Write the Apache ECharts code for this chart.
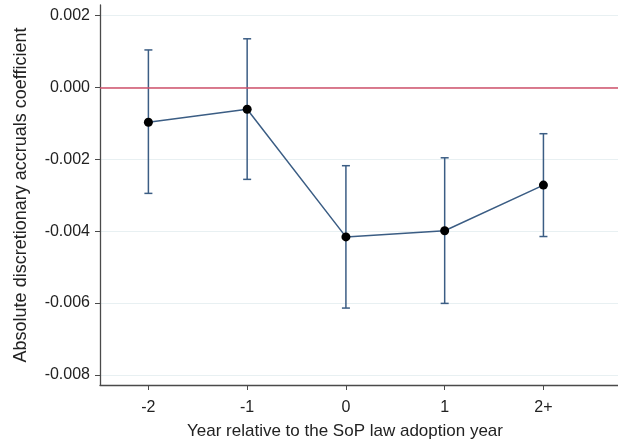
<!DOCTYPE html>
<html>
<head>
<meta charset="utf-8">
<script src="https://cdn.jsdelivr.net/npm/echarts@6/dist/echarts.min.js"></script>
<style>html,body{margin:0;padding:0;background:#fff}#c{width:618px;height:445px}</style>
</head>
<body>
<div id="c"></div>
<script>
// Data
const categories = ['-2', '-1', '0', '1', '2+'];
const xPositions = [-2, -1, 0, 1, 2];
const coefficients = [-0.00097, -0.00061, -0.00416, -0.00399, -0.00272];
const upperCI = [0.00104, 0.00135, -0.00218, -0.00196, -0.00129];
const lowerCI = [-0.00295, -0.00256, -0.00614, -0.00601, -0.00415];
const yTicks = [-0.008, -0.006, -0.004, -0.002, 0, 0.002];

const FONT = '"Liberation Sans", Arial, sans-serif';
const LINE = '#3b5d84';

const chart = echarts.init(document.getElementById('c'), null, {renderer: 'canvas'});
const pointData = xPositions.map((x, i) => [x, coefficients[i]]);
const ciData = xPositions.map((x, i) => [x, lowerCI[i], upperCI[i]]);

chart.setOption({
  animation: false,
  backgroundColor: '#fff',
  grid: {left: 100, right: 0, top: 5, bottom: 57},
  xAxis: {
    type: 'value', min: -2.49, max: 2.755,
    axisLine: {show: true, onZero: false, lineStyle: {color: '#4a4a4a', width: 1.3}},
    axisTick: {show: true, customValues: xPositions, length: 5, lineStyle: {color: '#4a4a4a'}},
    axisLabel: {
      customValues: xPositions, margin: 15,
      formatter: v => categories[xPositions.indexOf(v)] ?? '',
      fontFamily: FONT, fontSize: 16, color: '#222'
    },
    splitLine: {show: false},
    name: 'Year relative to the SoP law adoption year',
    nameLocation: 'middle', nameGap: 38,
    nameTextStyle: {fontFamily: FONT, fontSize: 17, color: '#222', padding: [0, 28, 0, 0]}
  },
  yAxis: {
    type: 'value', min: -0.00828, max: 0.00229,
    axisLine: {show: true, onZero: false, lineStyle: {color: '#4a4a4a', width: 1.3}},
    axisTick: {show: true, customValues: yTicks, length: 5, lineStyle: {color: '#4a4a4a'}},
    axisLabel: {
      customValues: yTicks, margin: 10,
      formatter: v => v.toFixed(3),
      fontFamily: FONT, fontSize: 16, color: '#222'
    },
    splitLine: {show: true, lineStyle: {color: '#e8f0f2', width: 1}},
    name: 'Absolute discretionary accruals coefficient',
    nameLocation: 'middle', nameGap: 70, nameRotate: 90,
    nameTextStyle: {fontFamily: FONT, fontSize: 18, color: '#222'}
  },
  series: [
    {
      type: 'custom',
      data: ciData,
      renderItem: function (params, api) {
        const x = api.value(0);
        const lo = api.coord([x, api.value(1)]);
        const hi = api.coord([x, api.value(2)]);
        const hw = 4;
        const style = {stroke: LINE, lineWidth: 1.5};
        return {
          type: 'group',
          children: [
            {type: 'line', shape: {x1: lo[0], y1: lo[1], x2: hi[0], y2: hi[1]}, style},
            {type: 'line', shape: {x1: lo[0] - hw, y1: lo[1], x2: lo[0] + hw, y2: lo[1]}, style},
            {type: 'line', shape: {x1: hi[0] - hw, y1: hi[1], x2: hi[0] + hw, y2: hi[1]}, style}
          ]
        };
      },
      z: 2
    },
    {
      type: 'line',
      data: pointData,
      symbol: 'circle', symbolSize: 9,
      itemStyle: {color: '#000'},
      lineStyle: {color: LINE, width: 1.5},
      markLine: {
        silent: true, symbol: 'none', label: {show: false},
        lineStyle: {color: '#d0506a', width: 1.5, type: 'solid'},
        data: [{yAxis: 0}]
      },
      z: 3
    }
  ]
});
</script>
</body>
</html>
